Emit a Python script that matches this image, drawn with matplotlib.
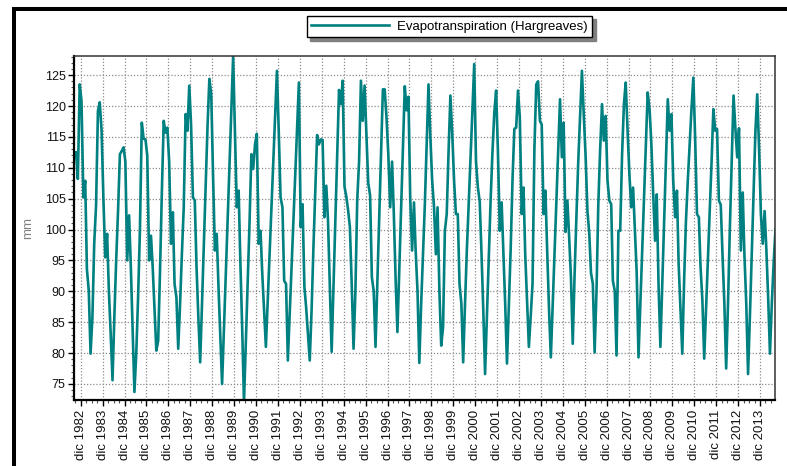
import numpy as np
import pandas as pd
import matplotlib
matplotlib.use('Agg')
import matplotlib.pyplot as plt
import matplotlib.dates as mdates
from matplotlib.patches import Rectangle
from matplotlib.ticker import MultipleLocator, FuncFormatter

plt.rcParams['font.family'] = ['Liberation Sans', 'DejaVu Sans']

# Monthly evapotranspiration (mm), Sep 1982 - Aug 2014
et_1982 = [112.5, 108.2, 123.5, 120.8]
et_1983 = [105.2, 107.9, 93.6, 90.1, 79.9, 85.8, 97.7, 104.0, 119.2, 120.6, 116.0, 105.0]
et_1984 = [95.5, 99.3, 90.1, 83.0, 75.6, 86.0, 95.0, 103.0, 112.2, 112.7, 113.3, 111.0]
et_1985 = [95.0, 102.3, 94.4, 84.0, 73.7, 80.0, 89.0, 100.0, 117.3, 114.7, 114.6, 112.0]
et_1986 = [95.0, 99.0, 94.0, 87.0, 80.4, 82.0, 93.0, 106.0, 117.6, 115.7, 116.5, 111.0]
et_1987 = [97.7, 102.8, 91.2, 89.0, 80.7, 88.0, 96.0, 103.6, 118.7, 116.0, 123.3, 117.0]
et_1988 = [105.2, 104.7, 94.0, 85.6, 78.5, 88.1, 97.7, 107.3, 116.9, 124.4, 122.0, 109.0]
et_1989 = [96.6, 99.3, 91.0, 83.0, 75.0, 83.8, 92.7, 101.5, 110.3, 119.2, 128.0, 116.0]
et_1990 = [103.6, 106.3, 95.0, 84.0, 72.0, 81.9, 91.4, 101.0, 112.2, 109.8, 113.8, 115.5]
et_1991 = [97.7, 99.8, 93.0, 87.0, 81.0, 88.5, 95.9, 103.4, 110.8, 118.3, 125.7, 116.0]
et_1992 = [105.2, 103.6, 91.7, 91.2, 78.8, 86.3, 93.8, 101.3, 108.8, 116.3, 123.8, 100.4]
et_1993 = [104.1, 90.7, 87.5, 83.0, 78.8, 87.0, 97.0, 106.0, 115.3, 113.8, 114.6, 114.5]
et_1994 = [102.0, 107.1, 101.5, 90.5, 80.2, 90.6, 101.2, 111.8, 122.6, 120.3, 124.1, 107.0]
et_1995 = [105.3, 103.0, 100.4, 91.0, 80.7, 90.0, 104.7, 111.0, 124.1, 117.6, 123.3, 115.5]
et_1996 = [107.5, 105.5, 92.3, 90.0, 81.0, 91.4, 101.9, 112.3, 122.7, 122.7, 118.0, 112.0]
et_1997 = [103.6, 111.0, 103.0, 92.0, 83.4, 93.4, 103.3, 113.3, 123.2, 119.3, 121.5, 105.0]
et_1998 = [96.6, 104.4, 96.6, 90.0, 78.4, 88.0, 96.0, 104.0, 114.0, 123.5, 115.0, 108.0]
et_1999 = [103.6, 96.0, 103.6, 90.0, 81.2, 84.2, 99.8, 102.5, 112.8, 121.7, 115.5, 108.0]
et_2000 = [102.5, 102.5, 91.2, 88.0, 78.5, 88.0, 96.6, 104.0, 111.0, 119.0, 126.8, 111.0]
et_2001 = [106.8, 104.5, 96.6, 87.0, 76.6, 86.0, 95.5, 104.6, 112.5, 118.8, 122.5, 112.8]
et_2002 = [99.8, 104.4, 96.6, 88.0, 78.3, 87.7, 96.6, 108.0, 116.3, 116.5, 122.5, 118.2]
et_2003 = [102.5, 106.8, 96.0, 88.5, 81.0, 86.0, 91.2, 113.0, 123.5, 124.0, 117.6, 117.0]
et_2004 = [102.5, 106.3, 96.6, 87.0, 79.3, 87.7, 96.0, 104.4, 112.7, 121.1, 111.7, 117.3]
et_2005 = [99.6, 104.7, 99.0, 92.3, 81.5, 92.7, 102.0, 111.0, 118.5, 125.7, 118.5, 112.0]
et_2006 = [103.0, 99.3, 93.0, 91.2, 80.1, 90.0, 104.0, 113.0, 120.3, 114.4, 118.4, 108.0]
et_2007 = [104.7, 104.1, 91.7, 90.1, 79.6, 99.8, 99.8, 112.0, 120.3, 123.8, 116.0, 109.0]
et_2008 = [103.6, 106.8, 100.0, 93.0, 79.3, 88.0, 96.5, 105.0, 113.5, 122.2, 119.5, 114.0]
et_2009 = [105.7, 98.2, 105.7, 90.7, 81.0, 91.0, 101.0, 111.0, 121.1, 116.0, 118.7, 107.9]
et_2010 = [102.0, 106.3, 94.4, 87.0, 79.9, 92.0, 101.4, 108.0, 114.0, 119.5, 124.6, 114.9]
et_2011 = [102.5, 102.0, 94.0, 88.5, 79.1, 87.0, 95.0, 103.0, 111.0, 119.5, 116.0, 116.3]
et_2012 = [104.7, 104.0, 96.0, 88.0, 77.5, 88.0, 100.0, 111.0, 121.7, 116.5, 111.7, 116.4]
et_2013 = [96.6, 106.0, 96.0, 88.0, 76.6, 86.0, 96.0, 106.0, 116.0, 121.9, 113.0, 102.5]
et_2014 = [97.7, 103.0, 97.0, 89.0, 79.9, 88.0, 94.5, 100.0]

first_month = '1982-09-01'
series_label = 'Evapotranspiration (Hargreaves)'
y_label = 'mm'
month_abbrev = 'dic'

values = (et_1982 + et_1983 + et_1984 + et_1985 + et_1986 + et_1987 + et_1988 +
          et_1989 + et_1990 + et_1991 + et_1992 + et_1993 + et_1994 + et_1995 +
          et_1996 + et_1997 + et_1998 + et_1999 + et_2000 + et_2001 + et_2002 +
          et_2003 + et_2004 + et_2005 + et_2006 + et_2007 + et_2008 + et_2009 +
          et_2010 + et_2011 + et_2012 + et_2013 + et_2014)
dates = pd.date_range(first_month, periods=len(values), freq='MS') + pd.Timedelta(days=14)

W, H = 787, 466
fig = plt.figure(figsize=(W / 100, H / 100), dpi=100)
ax = fig.add_axes([74 / W, 1 - 400 / H, 701 / W, 344 / H])

ax.plot(dates, values, color='#008080', lw=1.9, label=series_label)

ax.set_xlim(pd.Timestamp('1982-08-12'), pd.Timestamp('2014-08-07'))
ax.set_ylim(72.4, 128.1)

ax.xaxis.set_major_locator(mdates.MonthLocator(bymonth=12, bymonthday=1))
ax.xaxis.set_minor_locator(mdates.MonthLocator(bymonth=[3, 6, 9], bymonthday=1))
ax.xaxis.set_major_formatter(FuncFormatter(
    lambda v, pos: f"{month_abbrev} {mdates.num2date(v).year}"))
ax.yaxis.set_major_locator(MultipleLocator(5))
ax.yaxis.set_minor_locator(MultipleLocator(1))

ax.grid(True, which='major', linestyle=(0, (1, 1.5)), color='#8c8c8c', linewidth=0.9)
ax.set_axisbelow(True)

ax.tick_params(axis='both', which='major', length=4, width=1, color='black',
               direction='out')
ax.tick_params(axis='both', which='minor', length=2.5, width=0.8, color='#555555',
               direction='out')
ax.tick_params(axis='y', which='major', labelsize=9, pad=2, labelcolor='#111111')
ax.tick_params(axis='x', which='major', labelsize=9.5, pad=3, labelrotation=90,
               labelcolor='#111111')

for side in ('left', 'bottom'):
    ax.spines[side].set_linewidth(1.6)
    ax.spines[side].set_color('black')
for side in ('top', 'right'):
    ax.spines[side].set_linewidth(1.1)
    ax.spines[side].set_color('#333333')

ax.set_ylabel(y_label, color='#808080', fontsize=9.5)
ax.yaxis.set_label_coords(-0.057, 0.5)

leg = ax.legend(loc='upper left', bbox_to_anchor=(306.7 / W, 1 - 16 / H),
                bbox_transform=fig.transFigure, fancybox=False,
                shadow={'ox': 2.5, 'oy': -2.5, 'color': '#808080', 'alpha': 1.0},
                framealpha=1, edgecolor='black', fontsize=9.5,
                handlelength=5.9, handletextpad=0.6, borderpad=0.35,
                borderaxespad=0)
leg.get_frame().set_linewidth(1.0)

fig.add_artist(Rectangle((13.7 / W, -0.2), 1.2, 1.2 - 9.2 / H,
                         transform=fig.transFigure, fill=False,
                         lw=2.9, ec='black'))

fig.savefig('out.png', dpi=100)
